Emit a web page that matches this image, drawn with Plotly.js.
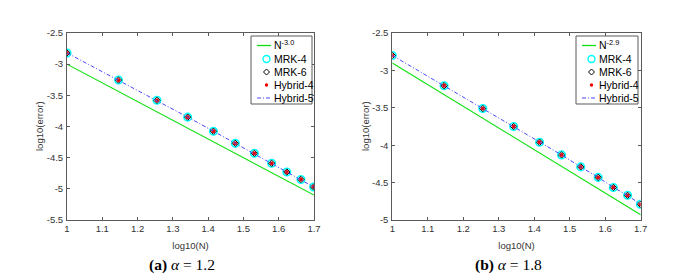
<!DOCTYPE html>
<html>
<head>
<meta charset="utf-8">
<script src="https://cdn.plot.ly/plotly-3.0.1.min.js"></script>
<style>html,body{margin:0;padding:0;background:#fff;}#chart{width:686px;height:280px;}</style>
</head>
<body>
<div id="chart"></div>
<script>
// ---- data ----
const logN = [1.000, 1.146, 1.255, 1.342, 1.415, 1.477, 1.531, 1.580, 1.623, 1.663, 1.699];
// panel (a) alpha = 1.2
const errA = [-2.82, -3.255, -3.58, -3.85, -4.075, -4.27, -4.43, -4.59, -4.73, -4.85, -4.97];
const refXA = [1.0, 1.7];
const refYA = [-3.0, -5.1];
// panel (b) alpha = 1.8
const errB = [-2.80, -3.205, -3.51, -3.75, -3.96, -4.13, -4.29, -4.43, -4.565, -4.67, -4.79];
const refXB = [1.0, 1.7];
const refYB = [-2.9, -4.93];

const xTickVals = [1, 1.1, 1.2, 1.3, 1.4, 1.5, 1.6, 1.7];
const xTickText = ['1', '1.1', '1.2', '1.3', '1.4', '1.5', '1.6', '1.7'];
const yTickValsA = [-5.5, -5, -4.5, -4, -3.5, -3, -2.5];
const yTickTextA = ['-5.5', '-5', '-4.5', '-4', '-3.5', '-3', '-2.5'];
const yTickValsB = [-5, -4.5, -4, -3.5, -3, -2.5];
const yTickTextB = ['-5', '-4.5', '-4', '-3.5', '-3', '-2.5'];

const legendA = ['N<sup>-3.0</sup>', 'MRK-4', 'MRK-6', 'Hybrid-4', 'Hybrid-5'];
const legendB = ['N<sup>-2.9</sup>', 'MRK-4', 'MRK-6', 'Hybrid-4', 'Hybrid-5'];
const captions = ['<b>(a)</b> <i>α</i> = 1.2', '<b>(b)</b> <i>α</i> = 1.8'];
const xTitle = 'log10(N)';
const yTitle = 'log10(error)';

// ---- styling ----
const W = 686, H = 280;
const px = x => x / W;
const py = y => 1 - y / H;
const FONT = 'Liberation Sans, Arial, Helvetica, sans-serif';
const AX = '#333333';
const AXL = '#5a5a5a';
const C_REF = '#10e010', C_MRK4 = '#00ffff', C_MRK6 = '#000000', C_HY4 = '#ee0000', C_HY5 = '#4848ff';

function panelTraces(err, rx, ry, xa, ya) {
  return [
    {x: rx, y: ry, xaxis: xa, yaxis: ya, mode: 'lines', line: {color: C_REF, width: 1.1}, showlegend: false, hoverinfo: 'skip'},
    {x: logN, y: err, xaxis: xa, yaxis: ya, mode: 'markers', marker: {symbol: 'circle-open', size: 7.5, color: C_MRK4, line: {width: 1.6, color: C_MRK4}}, showlegend: false},
    {x: logN, y: err, xaxis: xa, yaxis: ya, mode: 'markers', marker: {symbol: 'diamond-open', size: 4.8, color: C_MRK6, line: {width: 1, color: C_MRK6}}, showlegend: false},
    {x: logN, y: err, xaxis: xa, yaxis: ya, mode: 'markers', marker: {symbol: 'circle', size: 3.8, color: C_HY4, line: {width: 0}}, showlegend: false},
    {x: logN, y: err, xaxis: xa, yaxis: ya, mode: 'lines', line: {color: C_HY5, width: 1, dash: '4px,2px,1px,2px'}, showlegend: false}
  ];
}

const data = [].concat(
  panelTraces(errA, refXA, refYA, 'x', 'y'),
  panelTraces(errB, refXB, refYB, 'x2', 'y2')
);

const yDom = [py(220), py(33)];
function xAxis(dom, anchor) {
  return {domain: dom, anchor: anchor, range: [1, 1.7], tickvals: xTickVals, ticktext: xTickText,
    ticks: 'inside', ticklen: 3, tickwidth: 1, tickcolor: AXL, mirror: 'ticks', showline: true,
    linecolor: AXL, linewidth: 1, showgrid: false, zeroline: false, ticklabelstandoff: 0,
    tickfont: {family: FONT, size: 9.5, color: AX},
    title: {text: xTitle, font: {family: FONT, size: 9.5, color: AX}, standoff: 8}};
}
function yAxis(range, tv, tt, anchor) {
  return {domain: yDom, anchor: anchor, range: range, tickvals: tv, ticktext: tt,
    ticks: 'inside', ticklen: 3, tickwidth: 1, tickcolor: AXL, mirror: 'ticks', showline: true,
    linecolor: AXL, linewidth: 1, showgrid: false, zeroline: false, ticklabelstandoff: 1,
    tickfont: {family: FONT, size: 9.5, color: AX}};
}

const shapes = [];
const annotations = [];
function addLegend(labels, bx0, bx1, by0, by1) {
  shapes.push({type: 'rect', xref: 'paper', yref: 'paper', x0: px(bx0), x1: px(bx1), y0: py(by1), y1: py(by0),
    line: {color: AXL, width: 1}, fillcolor: '#ffffff', layer: 'above'});
  const rows = [45.5, 59, 72, 85, 98];
  const sx0 = bx0 + 6, sx1 = bx0 + 20, cx = bx0 + 15.5;
  // sample glyphs
  shapes.push({type: 'line', xref: 'paper', yref: 'paper', x0: px(sx0), x1: px(sx1), y0: py(rows[0]), y1: py(rows[0]), line: {color: C_REF, width: 1.3}, layer: 'above'});
  shapes.push({type: 'circle', xref: 'paper', yref: 'paper', x0: px(cx - 3.5), x1: px(cx + 3.5), y0: py(rows[1] + 3.5), y1: py(rows[1] - 3.5), line: {color: C_MRK4, width: 1.4}, layer: 'above'});
  const d = 3;
  shapes.push({type: 'path', xref: 'paper', yref: 'paper',
    path: 'M ' + px(cx) + ' ' + py(rows[2] - d) + ' L ' + px(cx + d) + ' ' + py(rows[2]) + ' L ' + px(cx) + ' ' + py(rows[2] + d) + ' L ' + px(cx - d) + ' ' + py(rows[2]) + ' Z',
    line: {color: C_MRK6, width: 1}, layer: 'above'});
  shapes.push({type: 'circle', xref: 'paper', yref: 'paper', x0: px(cx - 1.7), x1: px(cx + 1.7), y0: py(rows[3] + 1.7), y1: py(rows[3] - 1.7), line: {width: 0}, fillcolor: C_HY4, layer: 'above'});
  shapes.push({type: 'line', xref: 'paper', yref: 'paper', x0: px(sx0), x1: px(sx1), y0: py(rows[4]), y1: py(rows[4]), line: {color: C_HY5, width: 1, dash: '4px,2px,1px,2px'}, layer: 'above'});
  labels.forEach((t, i) => {
    annotations.push({xref: 'paper', yref: 'paper', x: px(bx0 + 20.5), y: py(rows[i] + (i === 0 ? -1.5 : 0)), xanchor: 'left', yanchor: 'middle',
      text: t, showarrow: false, font: {family: FONT, size: 10.5, color: '#000'}});
  });
}
addLegend(legendA, 251, 312, 36, 104);
addLegend(legendB, 576, 638, 36, 104);

// y-axis titles
annotations.push({xref: 'paper', yref: 'paper', x: px(40), y: py(126), xanchor: 'center', yanchor: 'middle', showarrow: false,
  textangle: -90, text: yTitle, font: {family: FONT, size: 9.5, color: AX}});
annotations.push({xref: 'paper', yref: 'paper', x: px(366), y: py(126), xanchor: 'center', yanchor: 'middle', showarrow: false,
  textangle: -90, text: yTitle, font: {family: FONT, size: 9.5, color: AX}});

annotations.push({xref: 'paper', yref: 'paper', x: px(182), y: py(265), xanchor: 'center', yanchor: 'middle', showarrow: false,
  text: captions[0], font: {family: 'Liberation Serif, Times New Roman, serif', size: 15.5, color: '#000'}});
annotations.push({xref: 'paper', yref: 'paper', x: px(508), y: py(265), xanchor: 'center', yanchor: 'middle', showarrow: false,
  text: captions[1], font: {family: 'Liberation Serif, Times New Roman, serif', size: 15.5, color: '#000'}});

const layout = {
  width: W, height: H, margin: {l: 0, r: 0, t: 0, b: 0},
  paper_bgcolor: '#fff', plot_bgcolor: '#fff', showlegend: false,
  xaxis: xAxis([px(67), px(314)], 'y'),
  yaxis: yAxis([-5.5, -2.5], yTickValsA, yTickTextA, 'x'),
  xaxis2: xAxis([px(392.3), px(640.7)], 'y2'),
  yaxis2: yAxis([-5, -2.5], yTickValsB, yTickTextB, 'x2'),
  shapes: shapes, annotations: annotations
};

Plotly.newPlot('chart', data, layout, {staticPlot: true, displayModeBar: false});
</script>
</body>
</html>
